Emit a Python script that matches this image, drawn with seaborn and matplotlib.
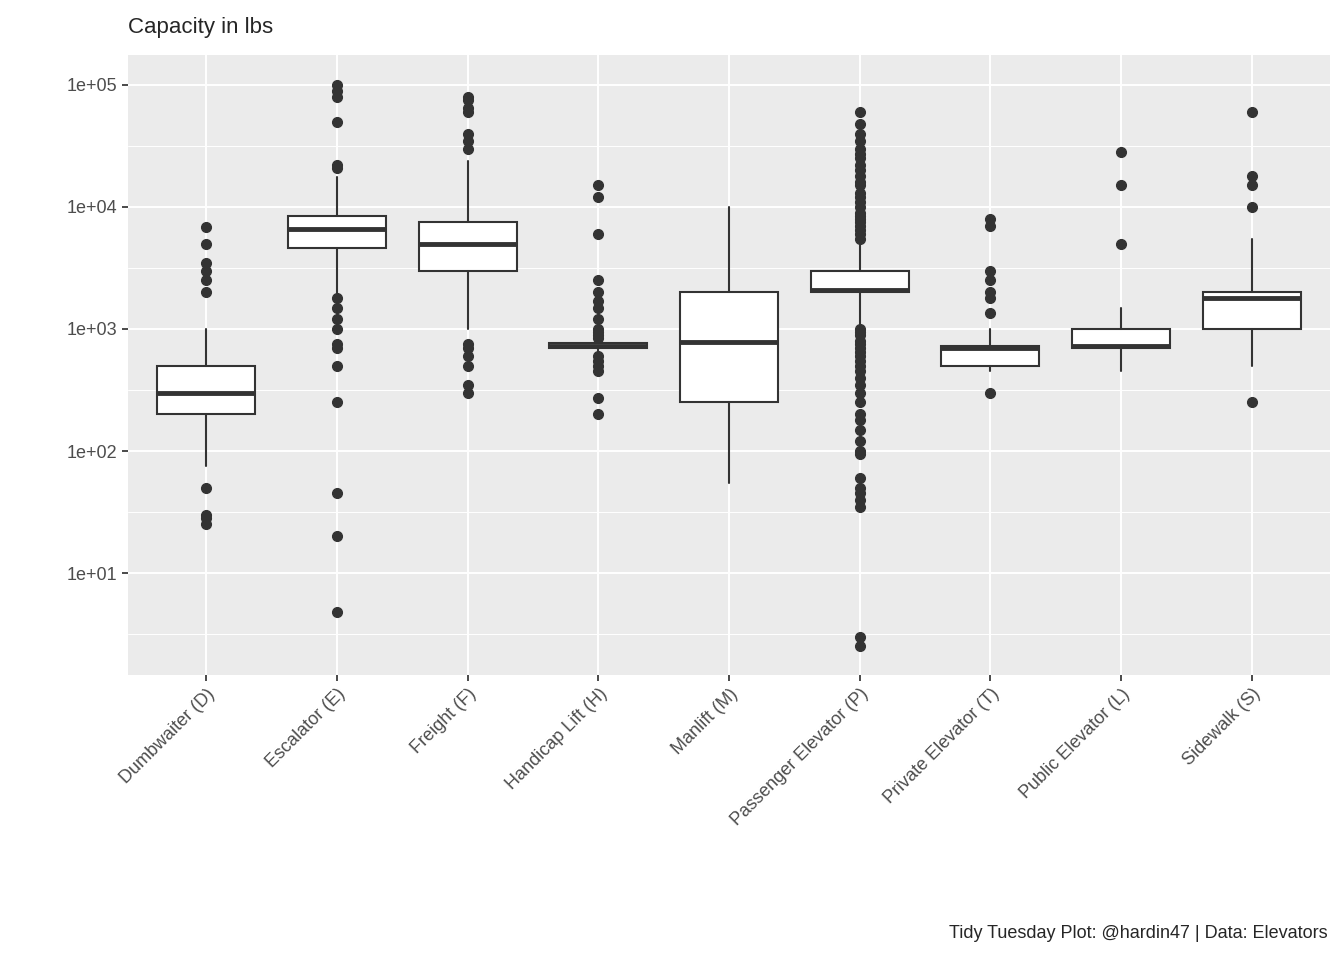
import numpy as np
import matplotlib
matplotlib.use("Agg")
import matplotlib.pyplot as plt
import seaborn as sns

categories = ["Dumbwaiter (D)", "Escalator (E)", "Freight (F)", "Handicap Lift (H)", "Manlift (M)",
              "Passenger Elevator (P)", "Private Elevator (T)", "Public Elevator (L)", "Sidewalk (S)"]
whislo = [75, 1900, 1000, 650, 55, 1100, 450, 450, 500]
q1 = [200, 4600, 3000, 700, 250, 2000, 500, 700, 1000]
med = [300, 6600, 5000, 730, 780, 2080, 700, 730, 1800]
q3 = [500, 8500, 7500, 770, 2000, 3000, 720, 1000, 2000]
whishi = [1000, 17500, 24000, 800, 10000, 5000, 1000, 1500, 5500]
outliers = [
    [6800, 5000, 3500, 3000, 2500, 2000, 50, 30, 28, 25],
    [100000, 90000, 80000, 50000, 22000, 21000, 1800, 1500, 1200, 1000, 750, 700, 500, 250, 45, 20, 4.8],
    [80000, 75000, 65000, 60000, 40000, 35000, 30000, 750, 700, 600, 500, 350, 300],
    [15000, 12000, 6000, 2500, 2000, 1700, 1500, 1200, 1000, 950, 900, 850, 600, 550, 500, 450, 270, 200],
    [],
    [60000, 48000, 40000, 35000, 30000, 27000, 25000, 22000, 20000, 18000, 16000, 15000, 13000, 12000,
     11000, 10000, 9000, 8500, 8000, 7500, 7000, 6500, 6000, 5500,
     1000, 950, 900, 800, 750, 700, 650, 600, 550, 500, 450, 400, 350, 300, 250, 200, 180, 150,
     120, 100, 95, 60, 50, 45, 40, 35, 3, 2.5],
    [8000, 7000, 3000, 2500, 2000, 1800, 1350, 300],
    [28000, 15000, 5000],
    [60000, 18000, 15000, 10000, 250],
]

sns.set_theme(style="darkgrid", rc={"axes.facecolor": "#EBEBEB", "grid.color": "white"})
plt.rcParams["font.family"] = ["Liberation Sans", "DejaVu Sans"]

fig = plt.figure(figsize=(13.44, 9.6), dpi=100)
ax = fig.add_axes([128 / 1344, 1 - 675 / 960, 1202 / 1344, 620 / 960])

stats = []
for i, c in enumerate(categories):
    stats.append(dict(label=c, whislo=whislo[i], q1=q1[i], med=med[i], q3=q3[i],
                      whishi=whishi[i], fliers=outliers[i]))
dark = "#333333"
ax.bxp(stats, positions=range(len(categories)), widths=0.75, patch_artist=True,
       boxprops=dict(facecolor="white", edgecolor=dark, linewidth=1.5),
       medianprops=dict(color=dark, linewidth=3.5),
       whiskerprops=dict(color=dark, linewidth=1.5), capprops=dict(linewidth=0),
       flierprops=dict(marker="o", markerfacecolor=dark, markeredgecolor=dark, markersize=7))

ax.set_yscale("log")
ax.set_ylim(1.46, 1.76e5)
ax.set_xlim(-0.6, len(categories) - 0.4)
ticks = [10, 100, 1000, 10000, 100000]
ax.set_yticks(ticks)
ax.set_yticklabels(["1e+01", "1e+02", "1e+03", "1e+04", "1e+05"])
ax.set_yticks([10 ** (k + 0.5) for k in range(0, 5)], minor=True)
ax.yaxis.set_minor_formatter(matplotlib.ticker.NullFormatter())
ax.grid(True, which="major", color="white", linewidth=1.4)
ax.grid(True, which="minor", axis="y", color="white", linewidth=0.7)
ax.set_axisbelow(True)
ax.set_xticks(range(len(categories)))
ax.set_xticklabels(categories, rotation=45, ha="right", rotation_mode="anchor", fontsize=13, color="#4D4D4D")
ax.tick_params(axis="y", labelsize=13, labelcolor="#4D4D4D", length=4, color="#333333", left=True)
ax.tick_params(axis="x", length=4, color="#333333", bottom=True)
for s in ax.spines.values():
    s.set_visible(False)
ax.set_xlabel("")
ax.set_ylabel("")

fig.text(128 / 1344, 1 - 27 / 960, "Capacity in lbs", fontsize=16, va="center", ha="left")
fig.text(1328 / 1344, 1 - 934 / 960, "Tidy Tuesday Plot: @hardin47 | Data: Elevators",
         fontsize=13, va="center", ha="right")

fig.savefig("out.png", dpi=100)
